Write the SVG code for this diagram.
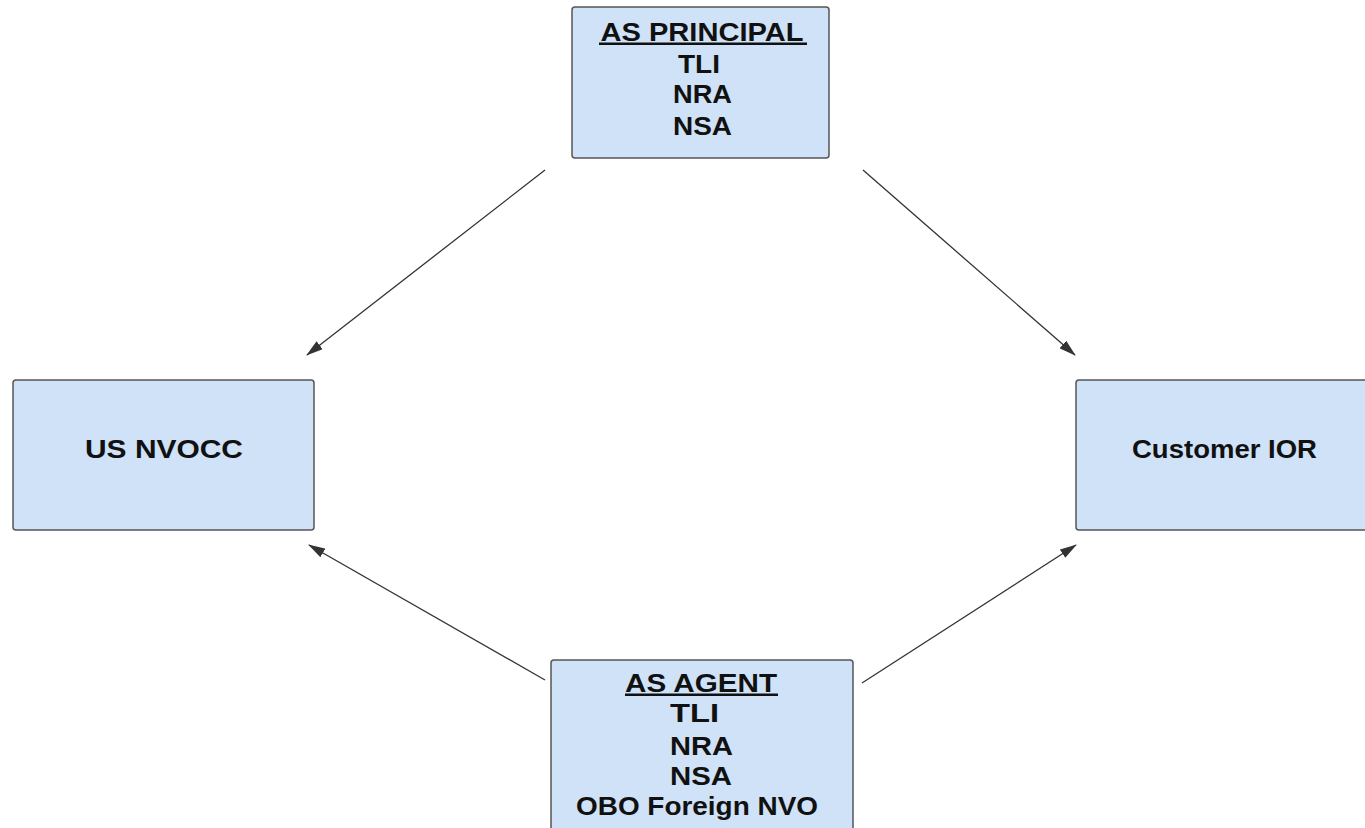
<svg xmlns="http://www.w3.org/2000/svg" width="1365" height="828" viewBox="0 0 1365 828">
<style>
.box{fill:#cfe2f8;stroke:#555;stroke-width:1.5}
.t{font-family:"Liberation Sans",Arial,sans-serif;font-size:26px;font-weight:bold;fill:#111;text-anchor:middle}
.ul{fill:#111}
.c{stroke:#333;stroke-width:1.3;fill:none;marker-end:url(#ah)}
</style>
<defs>
<marker id="ah" markerWidth="17" markerHeight="10" refX="16" refY="5" orient="auto" markerUnits="userSpaceOnUse">
<path d="M0,0 L17,5 L0,10 Z" fill="#333"/>
</marker>
</defs>
<rect width="1365" height="828" fill="#fff"/>
<g id="connectors">
<line class="c" x1="545" y1="170" x2="307" y2="355"/>
<line class="c" x1="863" y1="170" x2="1075" y2="355"/>
<line class="c" x1="545" y1="680" x2="309" y2="545"/>
<line class="c" x1="862" y1="683" x2="1076" y2="545"/>
</g>
<g id="principal">
<rect class="box" x="572" y="7" width="257" height="151" rx="3"/>
<text class="t" x="702" y="41" font-size="19" textLength="203" lengthAdjust="spacingAndGlyphs">AS PRINCIPAL</text>
<rect class="ul" x="599" y="42.5" width="208" height="2.5"/>
<text class="t" x="699" y="73" textLength="42" lengthAdjust="spacingAndGlyphs">TLI</text>
<text class="t" x="702.5" y="103" textLength="59" lengthAdjust="spacingAndGlyphs">NRA</text>
<text class="t" x="702.5" y="135" textLength="59" lengthAdjust="spacingAndGlyphs">NSA</text>
</g>
<g id="nvocc">
<rect class="box" x="13" y="380" width="301" height="150" rx="3"/>
<text class="t" x="164" y="458" font-size="25" textLength="158" lengthAdjust="spacingAndGlyphs">US NVOCC</text>
</g>
<g id="customer">
<rect class="box" x="1076" y="380" width="300" height="150" rx="3"/>
<text class="t" x="1224.5" y="458" font-size="25" textLength="185" lengthAdjust="spacingAndGlyphs">Customer IOR</text>
</g>
<g id="agent">
<rect class="box" x="551" y="660" width="302" height="175" rx="3"/>
<text class="t" x="701" y="692" font-size="24" textLength="152" lengthAdjust="spacingAndGlyphs">AS AGENT</text>
<rect class="ul" x="625" y="693.5" width="153" height="2.5"/>
<text class="t" x="694.5" y="722" textLength="49" lengthAdjust="spacingAndGlyphs">TLI</text>
<text class="t" x="701.5" y="755" textLength="63" lengthAdjust="spacingAndGlyphs">NRA</text>
<text class="t" x="701" y="785" textLength="62" lengthAdjust="spacingAndGlyphs">NSA</text>
<text class="t" x="697" y="815" font-size="27" textLength="242" lengthAdjust="spacingAndGlyphs">OBO Foreign NVO</text>
</g>
</svg>
